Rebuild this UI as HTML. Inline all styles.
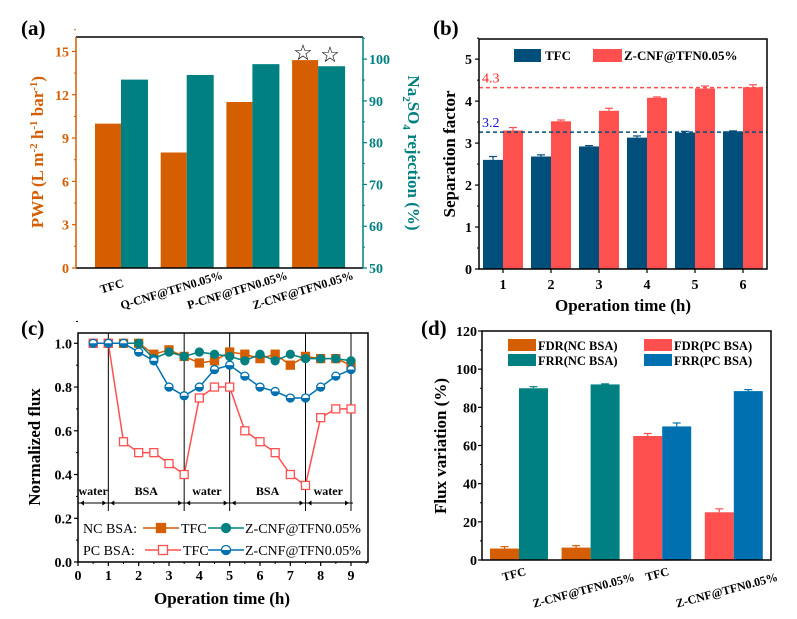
<!DOCTYPE html>
<html><head><meta charset="utf-8"><style>
body{margin:0;background:#fff}
svg{display:block;font-family:"Liberation Serif",serif;font-weight:bold}
</style></head><body>
<svg id="fig" width="797" height="619" viewBox="0 0 797 619"></svg>
<script>
// ---- data ----
const aCats=["TFC","Q-CNF@TFN0.05%","P-CNF@TFN0.05%","Z-CNF@TFN0.05%"];
const aPWP=[10,8,11.5,14.4];
const aRej=[95.1,96.2,98.8,98.3];
const aLeftTicks=[0,3,6,9,12,15];
const aRightTicks=[50,60,70,80,90,100];
const bCats=["1","2","3","4","5","6"];
const bTFC=[2.6,2.68,2.92,3.13,3.25,3.28];
const bTFCerr=[0.08,0.04,0.02,0.04,0.03,0.01];
const bZ=[3.3,3.52,3.77,4.08,4.3,4.33];
const bZerr=[0.07,0.03,0.06,0.02,0.06,0.06];
const bRefs=[4.32,3.26];
const bRefLabels=["4.3","3.2"];
const bTicks=[0,1,2,3,4,5];
const cTimes=[0.5,1,1.5,2,2.5,3,3.5,4,4.5,5,5.5,6,6.5,7,7.5,8,8.5,9];
const cNCTFC=[1,1,1,1,0.95,0.97,0.94,0.91,0.92,0.96,0.95,0.93,0.95,0.9,0.94,0.93,0.93,0.9];
const cNCZ=[1,1,1,1,0.93,0.96,0.94,0.96,0.95,0.94,0.92,0.95,0.92,0.95,0.93,0.93,0.93,0.92];
const cPCTFC=[1,1,0.55,0.5,0.5,0.45,0.4,0.75,0.8,0.8,0.6,0.55,0.5,0.4,0.35,0.66,0.7,0.7];
const cPCZ=[1,1,1,0.96,0.92,0.8,0.76,0.8,0.88,0.9,0.85,0.8,0.78,0.75,0.75,0.8,0.85,0.88];
const cStages=[0,1,3.5,5,7.5,9];
const cStageNames=["water","BSA","water","BSA","water"];
const cXTicks=[0,1,2,3,4,5,6,7,8,9];
const cYTicks=[0,0.2,0.4,0.6,0.8,1.0];
const dCats=["TFC","Z-CNF@TFN0.05%","TFC","Z-CNF@TFN0.05%"];
const dFDR=[6,6.5,65,25];
const dFDRerr=[1,1,1.3,1.8];
const dFRR=[90,92,70,88.5];
const dFRRerr=[0.8,0.3,1.8,0.8];
const dTicks=[0,20,40,60,80,100,120];

const NS="http://www.w3.org/2000/svg";
const svg=document.getElementById('fig');
function el(tag,attrs,parent,text){const e=document.createElementNS(NS,tag);for(const k in attrs)e.setAttribute(k,attrs[k]);if(text!==undefined)e.textContent=text;(parent||svg).appendChild(e);return e;}
function lin(d0,d1,r0,r1){return v=>r0+(v-d0)*(r1-r0)/(d1-d0);}
const OR="#D45E00",TE="#008080",DB="#004E7A",RD="#FF5050",BL="#0070B0";

// ===== Panel A =====
(function(){
const g=el('g',{},svg);
const L=76,R=363,T=37,B=268;
const y=lin(0,16,B,T), y2=lin(50,105.3,B,T);
const xc=i=>121+i*65.7;
const bw=26;
aPWP.forEach((v,i)=>{const r=el('rect',{x:xc(i)-bw,y:y(v),width:bw,height:B-y(v),fill:OR},g);});
aRej.forEach((v,i)=>{const r=el('rect',{x:xc(i),y:y2(v),width:bw+1,height:B-y2(v),fill:TE},g);});
el('line',{x1:L,y1:T,x2:R,y2:T,stroke:'#000','stroke-width':1.5},g);
el('line',{x1:L,y1:B,x2:R,y2:B,stroke:'#000','stroke-width':1.5},g);
el('line',{x1:L,y1:T,x2:L,y2:B,stroke:OR,'stroke-width':1.5},g);
el('line',{x1:R,y1:T,x2:R,y2:B,stroke:TE,'stroke-width':1.5},g);
aLeftTicks.forEach(t=>{el('line',{x1:L,y1:y(t),x2:L-4,y2:y(t),stroke:OR,'stroke-width':1.2},g);el('line',{x1:L,y1:y(t+1.5),x2:L-2,y2:y(t+1.5),stroke:OR},g);
 el('text',{x:L-7,y:y(t)+5,'text-anchor':'end','font-size':14,fill:OR},g,t);});
aRightTicks.forEach(t=>{el('line',{x1:R,y1:y2(t),x2:R+4,y2:y2(t),stroke:TE,'stroke-width':1.2},g);el('line',{x1:R,y1:y2(t+5),x2:R+2,y2:y2(t+5),stroke:TE},g);
 el('text',{x:R+6,y:y2(t)+5,'font-size':14,fill:TE},g,t);});
aCats.forEach((c,i)=>{const px=xc(i)-(i==0?8:14), py=i==0?290:294;const t=el('text',{x:px,y:py,'text-anchor':'middle','font-size':12,transform:`rotate(-17 ${px} ${py})`},g,c);});
el('text',{x:303,y:60,'text-anchor':'middle','font-size':22,'font-weight':'normal'},g,'☆');
el('text',{x:330,y:62,'text-anchor':'middle','font-size':22,'font-weight':'normal'},g,'☆');
const yl=el('text',{x:0,y:0,'text-anchor':'middle','font-size':17,fill:OR,transform:'translate(43 152) rotate(-90)'},g);

yl.innerHTML='PWP (L m<tspan dy="-6" font-size="11">-2</tspan><tspan dy="6"> h</tspan><tspan dy="-6" font-size="11">-1</tspan><tspan dy="6"> bar</tspan><tspan dy="-6" font-size="11">-1</tspan><tspan dy="6">)</tspan>';
const yr=el('text',{x:0,y:0,'text-anchor':'middle','font-size':17,fill:TE,transform:'translate(408 153) rotate(90)'},g);

yr.innerHTML='Na<tspan dy="5" font-size="11">2</tspan><tspan dy="-5">SO</tspan><tspan dy="5" font-size="11">4</tspan><tspan dy="-5"> rejection (%)</tspan>';
el('text',{x:21,y:35,'font-size':21},g,'(a)');
})();

// ===== Panel B =====
(function(){
const g=el('g',{},svg);
const L=479,R=767,T=39,B=269;
const y=lin(0,5.48,B,T);const bw=20;const xc=i=>L+24+48*i;
function bar(v,e,x,col,name){const r=el('rect',{x:x,y:y(v),width:bw,height:B-y(v),fill:col},g);
 el('line',{x1:x+bw/2,y1:y(v),x2:x+bw/2,y2:y(v+e),stroke:col,'stroke-width':1.2},g);el('line',{x1:x+bw/2-4,y1:y(v+e),x2:x+bw/2+4,y2:y(v+e),stroke:col,'stroke-width':1.2},g);}
bTFC.forEach((v,i)=>bar(v,bTFCerr[i],xc(i)-bw,DB,'bar-tfc-'+i));
bZ.forEach((v,i)=>bar(v,bZerr[i],xc(i),RD,'bar-zcnf-'+i));
const rc=[RD,DB],lc=["#FF2020","#1010E0"];
bRefs.forEach((v,i)=>{el('line',{x1:L,y1:y(v),x2:R,y2:y(v),stroke:rc[i],'stroke-width':1.5,'stroke-dasharray':'4 3'},g);el('text',{x:482,y:y(v)-5,'font-size':14,'font-weight':'normal',fill:lc[i]},g,bRefLabels[i]);});
el('rect',{x:L,y:T,width:R-L,height:B-T,fill:'none',stroke:'#000','stroke-width':1.5},g);
bTicks.forEach(t=>{el('line',{x1:L,y1:y(t),x2:L-4,y2:y(t),stroke:'#000','stroke-width':1.2},g);el('line',{x1:L,y1:y(t+.5),x2:L-2,y2:y(t+.5),stroke:'#000'},g);el('text',{x:L-7,y:y(t)+5,'text-anchor':'end','font-size':14},g,t);});
bCats.forEach((c,i)=>{el('line',{x1:xc(i),y1:B,x2:xc(i),y2:B+4,stroke:'#000','stroke-width':1.2},g);el('text',{x:xc(i),y:B+20,'text-anchor':'middle','font-size':14},g,c);});
const lg=el('g',{},g);
el('rect',{x:514,y:49,width:27,height:13,fill:DB},lg);el('text',{x:545,y:60,'font-size':13},lg,'TFC');
el('rect',{x:593,y:49,width:29,height:13,fill:RD},lg);el('text',{x:624,y:60,'font-size':13},lg,'Z-CNF@TFN0.05%');
el('text',{x:0,y:0,'text-anchor':'middle','font-size':17,transform:'translate(455 154) rotate(-90)'},g,'Separation factor');
el('text',{x:623,y:311,'text-anchor':'middle','font-size':17},g,'Operation time (h)');
el('text',{x:433,y:35,'font-size':21},g,'(b)');
})();

// ===== Panel C =====
(function(){
const g=el('g',{},svg);
const L=78,R=368,T=333,B=562;
const x=lin(0,9,L,351), y=lin(0,1,B,343.3);
el('rect',{x:L,y:T,width:R-L,height:B-T,fill:'none',stroke:'#000','stroke-width':1.5},g);
cYTicks.forEach(t=>{el('line',{x1:L,y1:y(t),x2:L-4,y2:y(t),stroke:'#000','stroke-width':1.2},g);el('line',{x1:L,y1:y(t+.1),x2:L-2,y2:y(t+.1),stroke:'#000'},g);el('text',{x:L-6,y:y(t)+5,'text-anchor':'end','font-size':14},g,t.toFixed(1));});
cXTicks.forEach(t=>{el('line',{x1:x(t),y1:B,x2:x(t),y2:B+4,stroke:'#000','stroke-width':1.2},g);el('line',{x1:x(t+.5),y1:B,x2:x(t+.5),y2:B+2,stroke:'#000'},g);el('text',{x:x(t),y:B+18,'text-anchor':'middle','font-size':14},g,t);});
const ay=503;
el('line',{x1:L,y1:ay,x2:R-15,y2:ay,stroke:'#000'},g);
cStages.slice(1).forEach(s=>el('line',{x1:x(s),y1:T,x2:x(s),y2:ay+8,stroke:'#000'},g));
cStageNames.forEach((n,i)=>{const a=cStages[i],b=cStages[i+1];el('text',{x:x((a+b)/2),y:ay-8,'text-anchor':'middle','font-size':12},g,n);
 [[x(a)+2,1],[x(b)-2,-1]].forEach(([px,d])=>el('path',{d:`M${px} ${ay}l${4*d} -2.5v5z`,fill:'#000'},g));});
const MR=4;
function series(vals,col,mk,fillc,name){const sg=el('g',{},g);
 el('polyline',{points:vals.map((v,i)=>x(cTimes[i])+','+y(v)).join(' '),fill:'none',stroke:col,'stroke-width':1.5},sg);
 vals.forEach((v,i)=>{const px=x(cTimes[i]),py=y(v);
  if(mk=='sq')el('rect',{x:px-MR,y:py-MR,width:2*MR,height:2*MR,fill:fillc,stroke:col,'stroke-width':1.3},sg);
  else {el('circle',{cx:px,cy:py,r:MR,fill:fillc,stroke:col,'stroke-width':1.3},sg);if(fillc=='#fff')el('path',{d:`M${px-MR} ${py}a${MR} ${MR} 0 0 0 ${2*MR} 0z`,fill:col},sg);}});}
series(cNCTFC,OR,'sq',OR,'series-nc-tfc');
series(cNCZ,TE,'ci',TE,'series-nc-zcnf');
series(cPCTFC,RD,'sq','#fff','series-pc-tfc');
series(cPCZ,BL,'ci','#fff','series-pc-zcnf');
const lg=el('g',{},g);
function lm(x0,yy,col,mk,fillc){el('line',{x1:x0,y1:yy,x2:x0+36,y2:yy,stroke:col,'stroke-width':1.5},lg);const px=x0+18;
 if(mk=='sq')el('rect',{x:px-4.5,y:yy-4.5,width:9,height:9,fill:fillc,stroke:col,'stroke-width':1.3},lg);
 else{el('circle',{cx:px,cy:yy,r:4.5,fill:fillc,stroke:col,'stroke-width':1.3},lg);if(fillc=='#fff')el('path',{d:`M${px-4.5} ${yy}a4.5 4.5 0 0 0 9 0z`,fill:col},lg);}}
el('text',{x:83,y:533,'font-size':14,'font-weight':'normal'},lg,'NC BSA:');lm(143,528,OR,'sq',OR);el('text',{x:181,y:533,'font-size':14,'font-weight':'normal'},lg,'TFC');
lm(208,528,TE,'ci',TE);el('text',{x:245,y:533,'font-size':14,'font-weight':'normal'},lg,'Z-CNF@TFN0.05%');
el('text',{x:83,y:555,'font-size':14,'font-weight':'normal'},lg,'PC BSA:');lm(145,550,RD,'sq','#fff');el('text',{x:183,y:555,'font-size':14,'font-weight':'normal'},lg,'TFC');
lm(208,550,BL,'ci','#fff');el('text',{x:245,y:555,'font-size':14,'font-weight':'normal'},lg,'Z-CNF@TFN0.05%');
el('text',{x:0,y:0,'text-anchor':'middle','font-size':17,transform:'translate(40 447) rotate(-90)'},g,'Normalized flux');
el('text',{x:222,y:604,'text-anchor':'middle','font-size':17},g,'Operation time (h)');
el('text',{x:21,y:335,'font-size':21},g,'(c)');
})();

// ===== Panel D =====
(function(){
const g=el('g',{},svg);
const L=482,R=771,T=331,B=560;
const y=lin(0,120,B,T);const bw=29;const xc=i=>519+i*71.6;
const fdrC=[OR,OR,RD,RD], frrC=[TE,TE,BL,BL];
function bar(v,e,x,col,name){const r=el('rect',{x:x,y:y(v),width:bw,height:B-y(v),fill:col},g);
 el('line',{x1:x+bw/2,y1:y(v),x2:x+bw/2,y2:y(v+e),stroke:col,'stroke-width':1.2},g);el('line',{x1:x+bw/2-4,y1:y(v+e),x2:x+bw/2+4,y2:y(v+e),stroke:col,'stroke-width':1.2},g);}
dFDR.forEach((v,i)=>bar(v,dFDRerr[i],xc(i)-bw,fdrC[i],'bar-fdr-'+i));
dFRR.forEach((v,i)=>bar(v,dFRRerr[i],xc(i),frrC[i],'bar-frr-'+i));
el('rect',{x:L,y:T,width:R-L,height:B-T,fill:'none',stroke:'#000','stroke-width':1.5},g);
dTicks.forEach(t=>{el('line',{x1:L,y1:y(t),x2:L-4,y2:y(t),stroke:'#000','stroke-width':1.2},g);if(t<120)el('line',{x1:L,y1:y(t+10),x2:L-2,y2:y(t+10),stroke:'#000'},g);el('text',{x:L-5,y:y(t)+5,'text-anchor':'end','font-size':14},g,t);});
dCats.forEach((c,i)=>{const px=xc(i)-(c=='TFC'?4:6), py=c=='TFC'?578:594;el('text',{x:px,y:py,'text-anchor':'middle','font-size':12,transform:`rotate(-15 ${px} ${py})`},g,c);});
const lg=el('g',{},g);
[[508,339,OR,'FDR(NC BSA)'],[508,354,TE,'FRR(NC BSA)'],[644,339,RD,'FDR(PC BSA)'],[644,354,BL,'FRR(PC BSA)']].forEach(([lx,ly,c,t])=>{el('rect',{x:lx,y:ly,width:28,height:12,fill:c},lg);el('text',{x:lx+30,y:ly+11,'font-size':12.5},lg,t);});
el('text',{x:0,y:0,'text-anchor':'middle','font-size':17,transform:'translate(446 446) rotate(-90)'},g,'Flux variation (%)');
el('text',{x:421,y:335,'font-size':21},g,'(d)');
})();
</script>
</body></html>
